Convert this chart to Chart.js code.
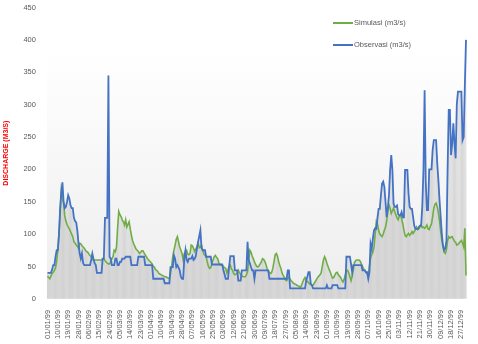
<!DOCTYPE html>
<html>
<head>
<meta charset="utf-8">
<script src="https://cdn.jsdelivr.net/npm/chart.js@4.4.0/dist/chart.umd.min.js"></script>
<style>
body { margin: 0; background: #fff; }
</style>
</head>
<body>
<canvas id="myChart" width="478" height="344"></canvas>
<script>
//daily values 01/01/99 - 31/12/99
var simulasi = [
	35,33,31,35,39,41,44,48,58,75,
	100,130,168,158,148,128,120,115,111,108,
	104,100,96,88,86,83,81,78,86,85,
	82,80,78,75,73,72,69,67,65,61,
	60,60,60,60,60,60,60,60,61,62,
	59,57,55,54,54,57,62,65,75,73,
	80,110,135,130,127,122,119,114,122,111,
	115,119,108,98,90,85,81,77,75,73,
	70,72,74,74,71,68,65,62,60,58,
	56,54,50,49,45,44,42,39,38,37,
	36,35,34,34,33,32,31,39,50,66,
	75,83,92,96,88,80,75,70,60,70,
	73,75,69,68,70,83,82,78,73,77,
	80,86,79,80,83,75,69,67,65,57,
	50,47,48,55,60,65,67,64,62,56,
	53,52,52,50,48,47,40,45,50,52,
	46,44,39,37,38,40,44,40,38,36,
	34,34,34,37,42,60,75,72,66,62,
	57,53,50,49,51,54,57,62,61,58,
	53,46,43,41,39,41,47,57,68,70,
	66,58,52,47,40,36,33,29,28,31,
	34,30,28,26,24,23,22,21,20,19,
	18,21,26,30,33,29,27,25,23,22,
	21,21,24,27,30,33,35,37,40,50,
	60,65,61,55,50,45,41,36,32,33,
	37,40,41,37,35,33,29,26,30,37,
	44,44,40,34,28,35,45,56,59,60,
	60,60,58,54,50,46,44,41,39,35,
	50,63,68,72,80,100,119,115,106,100,
	98,96,100,106,111,120,135,145,140,132,
	136,140,135,130,125,122,128,130,124,116,
	106,98,96,99,101,98,100,104,101,104,
	107,111,107,108,111,114,110,111,109,111,
	114,108,107,112,116,127,140,146,148,142,
	133,120,104,90,80,72,70,76,90,96,
	94,95,96,92,89,87,83,84,86,88,
	90,86,80,109,36
];
var observasi = [
	40,40,40,40,45,52,52,65,75,75,
	100,140,165,180,150,140,142,150,160,155,
	145,140,140,125,120,118,105,85,70,62,
	70,55,52,52,52,52,52,52,60,70,
	62,55,52,40,40,40,40,40,62,62,
	125,125,125,345,65,62,52,52,52,62,
	62,52,52,57,57,62,62,62,65,65,
	65,65,65,52,52,52,52,52,52,65,
	65,65,65,65,65,52,52,52,52,52,
	52,52,31,31,31,31,31,31,31,31,
	31,31,24,24,24,24,24,49,49,49,
	67,62,49,52,48,44,34,31,31,62,
	75,60,57,62,62,62,66,60,62,66,
	78,88,97,106,78,75,75,75,65,65,
	65,65,65,53,53,53,53,53,53,53,
	53,53,53,44,38,31,31,31,50,66,
	66,66,66,44,44,44,28,28,28,44,
	44,44,44,44,88,60,55,49,44,44,
	31,44,44,44,44,44,44,44,44,44,
	44,44,44,31,31,31,31,31,31,31,
	31,31,31,31,31,31,31,31,31,44,
	44,16,16,16,16,16,16,16,16,16,
	16,16,16,16,16,28,34,41,41,23,
	21,16,16,16,16,16,16,16,16,16,
	16,16,16,21,16,16,16,16,21,21,
	21,21,21,16,16,16,16,16,16,16,
	65,65,65,65,54,41,52,52,52,52,
	52,52,52,52,44,44,44,41,41,31,
	41,85,77,93,106,109,108,125,139,139,
	160,178,181,173,150,126,140,160,199,222,
	199,147,142,142,144,131,129,129,134,126,
	126,199,199,199,163,142,139,139,126,113,
	108,108,108,111,113,113,144,199,322,180,
	137,137,200,200,200,230,245,245,245,209,
	183,152,126,100,82,75,78,90,200,292,
	292,222,240,271,240,217,300,320,320,320,
	320,245,250,330,400
];
var yTicks = [0, 50, 100, 150, 200, 250, 300, 350, 400, 450];

//date labels dd/mm/yy, one per day
var dates = [];
for (var i = 0; i < simulasi.length; i++) {
	var dt = new Date(1999, 0, 1 + i);
	var dd = ('0' + dt.getDate()).slice(-2);
	var mm = ('0' + (dt.getMonth() + 1)).slice(-2);
	dates.push(dd + '/' + mm + '/99');
}

var FONT = 'Liberation Sans';
var TXT = '#595959';

//plot area gradient
var plotBg = {
	id: 'plotBg',
	beforeDraw: function(chart) {
		var a = chart.chartArea, ctx = chart.ctx;
		var g = ctx.createLinearGradient(0, a.top, 0, a.bottom);
		g.addColorStop(0, '#ffffff');
		g.addColorStop(0.15, '#ffffff');
		g.addColorStop(1, '#ededed');
		ctx.save();
		ctx.fillStyle = g;
		ctx.fillRect(a.left, a.top, a.right - a.left, a.bottom - a.top);
		ctx.restore();
	}
};

//legend drawn inside the plot, stacked
var sideLegend = {
	id: 'sideLegend',
	afterDraw: function(chart) {
		var ctx = chart.ctx;
		var items = [
			{ text: 'Simulasi (m3/s)', color: '#70ad47', y: 23 },
			{ text: 'Observasi (m3/s)', color: '#4472c4', y: 45 }
		];
		ctx.save();
		ctx.font = '7.5px "' + FONT + '"';
		ctx.textBaseline = 'middle';
		items.forEach(function(it) {
			ctx.strokeStyle = it.color;
			ctx.lineWidth = 2;
			ctx.beginPath();
			ctx.moveTo(333, it.y);
			ctx.lineTo(353, it.y);
			ctx.stroke();
			ctx.fillStyle = TXT;
			ctx.fillText(it.text, 354, it.y);
		});
		ctx.restore();
	}
};

var myChart = document.getElementById('myChart').getContext('2d');
var dischargeChart = new Chart(myChart, {
	type: 'bar',
	data: {
		labels: dates,
		datasets: [{
			type: 'line',
			label: 'Observasi (m3/s)',
			data: observasi,
			borderColor: '#4472c4',
			borderWidth: 1.8,
			pointRadius: 0,
			tension: 0,
			fill: false,
			order: 1
		}, {
			type: 'line',
			label: 'Simulasi (m3/s)',
			data: simulasi,
			borderColor: '#70ad47',
			borderWidth: 1.6,
			pointRadius: 0,
			tension: 0,
			fill: false,
			order: 2
		}, {
			label: 'obs bars',
			data: observasi,
			backgroundColor: '#d2d2d2',
			grouped: false,
			barPercentage: 0.72,
			categoryPercentage: 1,
			order: 3
		}, {
			label: 'sim bars',
			data: simulasi,
			backgroundColor: '#d2d2d2',
			grouped: false,
			barPercentage: 0.72,
			categoryPercentage: 1,
			order: 4
		}]
	},
	options: {
		responsive: false,
		animation: false,
		layout: { padding: { left: 0, right: 3, top: 5, bottom: 2 } },
		plugins: {
			legend: { display: false },
			tooltip: { enabled: false }
		},
		scales: {
			x: {
				grid: { display: false },
				border: { display: false },
				ticks: {
					autoSkip: false,
					minRotation: 90,
					maxRotation: 90,
					padding: 3,
					color: TXT,
					font: { family: FONT, size: 7.5 },
					callback: function(v, i) { return i % 9 === 0 ? dates[i] : ''; }
				}
			},
			y: {
				min: 0,
				max: 450,
				afterBuildTicks: function(s) { s.ticks = yTicks.map(function(v) { return { value: v }; }); },
				grid: { display: false },
				border: { display: false },
				ticks: {
					padding: 3,
					color: TXT,
					font: { family: FONT, size: 7.5 }
				},
				title: {
					display: true,
					text: 'DISCHARGE (M3/S)',
					color: '#ff0000',
					padding: { top: 2, bottom: 10 },
					font: { family: FONT, size: 7, weight: 'bold' }
				}
			}
		}
	},
	plugins: [plotBg, sideLegend]
});
</script>
</body>
</html>
